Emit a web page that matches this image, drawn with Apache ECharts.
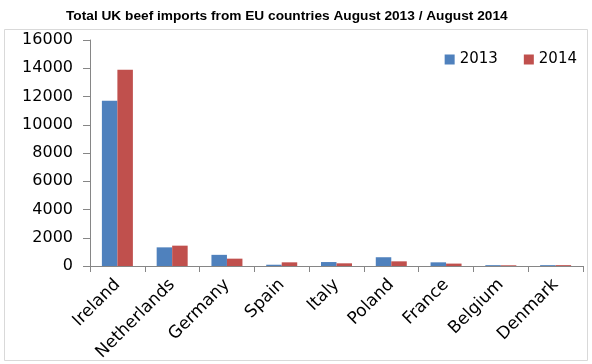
<!DOCTYPE html>
<html>
<head>
<meta charset="utf-8">
<script src="https://cdn.jsdelivr.net/npm/echarts@6/dist/echarts.min.js"></script>
<style>
html,body{margin:0;padding:0;background:#fff;}
#chart{width:592px;height:364px;}
</style>
</head>
<body>
<div id="chart"></div>
<script>
const categories = ['Ireland','Netherlands','Germany','Spain','Italy','Poland','France','Belgium','Denmark'];
const values2013 = [11700, 1320, 790, 90, 280, 620, 260, 60, 60];
const values2014 = [13900, 1440, 520, 260, 190, 330, 170, 50, 60];
const yTicks = {min: 0, max: 16000, interval: 2000};

const chart = echarts.init(document.getElementById('chart'), null, {renderer: 'canvas'});
const labelFont = 'DejaVu Sans';
chart.setOption({
  animation: false,
  backgroundColor: '#ffffff',
  title: {
    text: 'Total UK beef imports from EU countries August 2013 / August 2014',
    left: 61, top: 4,
    textStyle: {fontFamily: 'Liberation Sans Narrow, Liberation Sans', fontWeight: 'bold', fontSize: 13.7, color: '#000'}
  },
  graphic: [{
    type: 'rect', shape: {x: 4.5, y: 29.5, width: 583, height: 331},
    style: {fill: 'none', stroke: '#d9d9d9', lineWidth: 1}, silent: true
  }],
  legend: {
    data: ['2013', '2014'],
    right: 10, top: 47,
    icon: 'rect', itemWidth: 10, itemHeight: 10, itemGap: 26,
    textStyle: {fontFamily: labelFont, fontSize: 15, color: '#000', padding: [0,0,0,0]}
  },
  grid: {left: 90, right: 9, top: 40, bottom: 98, containLabel: false},
  xAxis: {
    type: 'category', data: categories,
    axisLine: {lineStyle: {color: '#868686', width: 1}},
    axisTick: {show: true, length: 6, lineStyle: {color: '#868686'}},
    axisLabel: {rotate: 45, fontFamily: labelFont, fontSize: 17, color: '#000', margin: 16, interval: 0}
  },
  yAxis: {
    type: 'value', min: yTicks.min, max: yTicks.max, interval: yTicks.interval,
    axisLine: {show: true, lineStyle: {color: '#868686', width: 1}},
    axisTick: {show: true, length: 7, lineStyle: {color: '#868686'}},
    splitLine: {show: false},
    axisLabel: {fontFamily: labelFont, fontSize: 16, color: '#000', margin: 17, formatter: v => String(v)}
  },
  series: [
    {name: '2013', type: 'bar', data: values2013, barWidth: 15.5, barGap: '0%', itemStyle: {color: '#4F81BD'}},
    {name: '2014', type: 'bar', data: values2014, barWidth: 15.5, barGap: '0%', itemStyle: {color: '#C0504D'}}
  ]
});
</script>
</body>
</html>
